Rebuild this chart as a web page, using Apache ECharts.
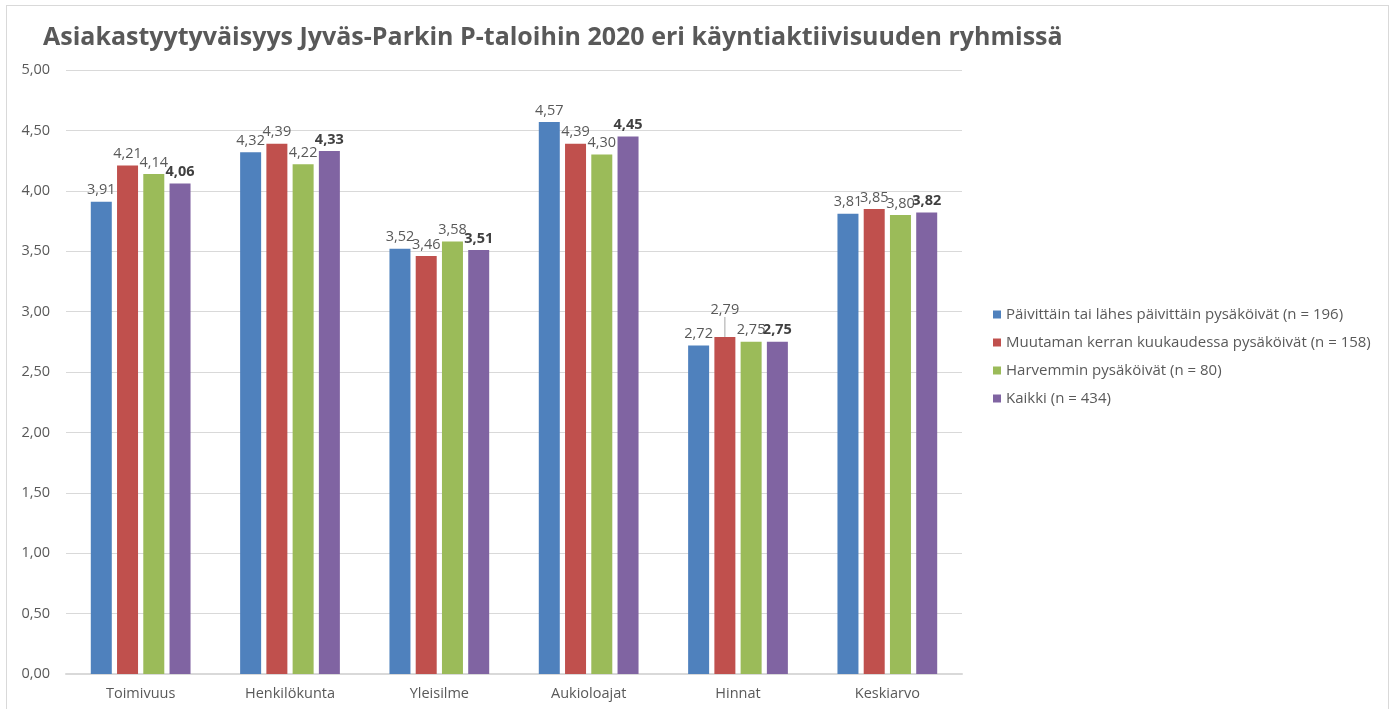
<!DOCTYPE html>
<html>
<head>
<meta charset="utf-8">
<script src="https://cdn.jsdelivr.net/npm/echarts@6/dist/echarts.min.js"></script>
<style>
  html, body { margin: 0; padding: 0; background: #fff; }
  #frame { position: absolute; left: 6px; top: 5px; width: 1383px; height: 720px; border: 1px solid #d9d9d9; box-sizing: border-box; }
  #main { position: absolute; left: 0; top: 0; width: 1396px; height: 709px; }
</style>
</head>
<body>
<div id="frame"></div>
<div id="main"></div>
<script>
// categories and series values
var categories = ['Toimivuus', 'Henkilökunta', 'Yleisilme', 'Aukioloajat', 'Hinnat', 'Keskiarvo'];
var seriesNames = [
    'Päivittäin tai lähes päivittäin pysäköivät (n = 196)',
    'Muutaman kerran kuukaudessa pysäköivät (n = 158)',
    'Harvemmin pysäköivät (n = 80)',
    'Kaikki (n = 434)'
];
var daily = [3.91, 4.32, 3.52, 4.57, 2.72, 3.81];
var monthly = [4.21, 4.39, 3.46, 4.39, 2.79, 3.85];
var rarely = [4.14, 4.22, 3.58, 4.30, 2.75, 3.80];
var all = [4.06, 4.33, 3.51, 4.45, 2.75, 3.82];
var colors = ['#4f81bd', '#c0504d', '#9bbb59', '#8064a2'];

var fnt = 'Open Sans, Noto Sans, sans-serif';
function fmt(v) {
    return Number(v).toFixed(2).replace('.', ',');
}

var chart = echarts.init(document.getElementById('main'));

var allData = [daily, monthly, rarely, all];
var series = [];
for (var i = 0; i < allData.length; i++) {
    // Hinnat label of the 2nd series is lifted up with a leader line, like in Excel
    var data = allData[i].map(function (v, j) {
        if (i == 1 && j == 4) return { value: v, labelLine: { show: true } };
        return v;
    });
    series.push({
        name: seriesNames[i],
        type: 'bar',
        data: data,
        barWidth: 21,
        barGap: '25%',
        itemStyle: { color: colors[i] },
        label: {
            show: true,
            position: 'top',
            distance: 4,
            formatter: function (p) { return fmt(p.value); },
            color: i == 3 ? '#404040' : '#595959',
            fontWeight: i == 3 ? 'bold' : 'normal',
            fontSize: 14.5,
            fontFamily: fnt
        },
        labelLine: { show: false, lineStyle: { color: '#a6a6a6', width: 1 } },
        labelLayout: i == 1 ? function (p) {
            if (p.dataIndex == 4) return { dy: -16 };
            return {};
        } : null
    });
}

var option = {
    animation: false,
    color: colors,
    title: {
        text: 'Asiakastyytyväisyys Jyväs-Parkin P-taloihin 2020 eri käyntiaktiivisuuden ryhmissä',
        left: 38,
        top: 20,
        textStyle: { fontFamily: fnt, fontSize: 25, fontWeight: 'bold', color: '#595959' }
    },
    legend: {
        orient: 'vertical',
        left: 988,
        top: 301,
        itemWidth: 8,
        itemHeight: 8,
        itemGap: 11,
        icon: 'rect',
        textStyle: { fontFamily: fnt, fontSize: 15, color: '#595959', lineHeight: 17 }
    },
    grid: { left: 66, right: 434, top: 70, bottom: 35 },
    xAxis: {
        type: 'category',
        data: categories,
        axisTick: { show: false },
        axisLine: { lineStyle: { color: '#d9d9d9', width: 2 } },
        axisLabel: { fontFamily: fnt, fontSize: 14.5, color: '#595959', margin: 12 }
    },
    yAxis: {
        type: 'value',
        min: 0,
        max: 5,
        interval: 0.5,
        axisLabel: { fontFamily: fnt, fontSize: 14.5, color: '#595959', margin: 16, formatter: fmt },
        splitLine: { lineStyle: { color: '#d9d9d9', width: 1 } }
    },
    series: series
};
chart.setOption(option);
</script>
</body>
</html>
